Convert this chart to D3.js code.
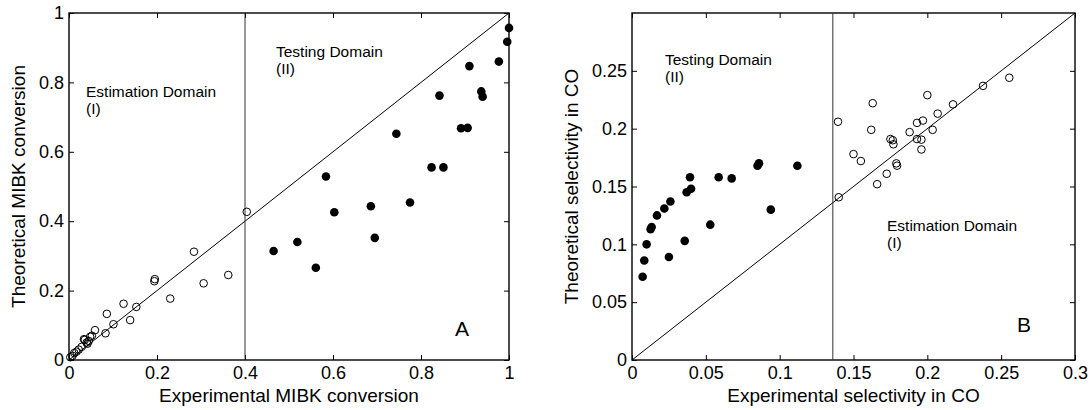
<!DOCTYPE html>
<html>
<head>
<meta charset="utf-8">
<script src="https://cdn.jsdelivr.net/npm/d3@7"></script>
<style>
  body { margin: 0; background: #fff; }
  svg text { font-family: "Liberation Sans", Arial, sans-serif; fill: #000; }
</style>
</head>
<body>
<div id="chart"></div>
<script>
// panel A: MIBK conversion, estimation domain (open) and testing domain (filled)
var mibkEstX = [0.003, 0.008, 0.012, 0.017, 0.022, 0.029, 0.034, 0.036, 0.040, 0.042, 0.045, 0.048, 0.052, 0.059, 0.083, 0.086, 0.101, 0.124, 0.139, 0.153, 0.194, 0.195, 0.230, 0.284, 0.306, 0.362, 0.404];
var mibkEstY = [0.008, 0.012, 0.020, 0.024, 0.030, 0.038, 0.060, 0.058, 0.050, 0.047, 0.055, 0.067, 0.070, 0.086, 0.077, 0.133, 0.103, 0.162, 0.115, 0.153, 0.227, 0.233, 0.177, 0.312, 0.221, 0.245, 0.427];
var mibkTestX = [0.465, 0.519, 0.561, 0.584, 0.603, 0.686, 0.695, 0.744, 0.775, 0.824, 0.842, 0.851, 0.891, 0.906, 0.910, 0.937, 0.940, 0.977, 0.996, 1.000];
var mibkTestY = [0.314, 0.340, 0.266, 0.529, 0.426, 0.443, 0.352, 0.652, 0.454, 0.555, 0.762, 0.555, 0.668, 0.669, 0.847, 0.774, 0.759, 0.860, 0.917, 0.957];

// panel B: selectivity in CO
var coTestX = [0.0072, 0.0083, 0.0099, 0.0126, 0.0133, 0.0169, 0.0219, 0.025, 0.026, 0.0357, 0.037, 0.0393, 0.040, 0.053, 0.0587, 0.0675, 0.085, 0.086, 0.094, 0.112];
var coTestY = [0.072, 0.086, 0.100, 0.113, 0.115, 0.125, 0.131, 0.089, 0.137, 0.103, 0.145, 0.158, 0.148, 0.117, 0.158, 0.157, 0.168, 0.170, 0.130, 0.168];
var coEstX = [0.1395, 0.140, 0.150, 0.155, 0.162, 0.163, 0.166, 0.1725, 0.175, 0.1766, 0.177, 0.179, 0.1795, 0.188, 0.193, 0.193, 0.196, 0.196, 0.197, 0.200, 0.2036, 0.207, 0.2174, 0.2377, 0.2555];
var coEstY = [0.206, 0.1407, 0.178, 0.172, 0.199, 0.222, 0.152, 0.161, 0.191, 0.190, 0.1865, 0.170, 0.168, 0.197, 0.205, 0.191, 0.1905, 0.182, 0.207, 0.229, 0.199, 0.213, 0.221, 0.237, 0.244];

var ticksA = [0, 0.2, 0.4, 0.6, 0.8, 1];
var ticksBx = [0, 0.05, 0.1, 0.15, 0.2, 0.25, 0.3];
var ticksBy = [0, 0.05, 0.1, 0.15, 0.2, 0.25];

var svg = d3.select("#chart").append("svg")
    .attr("width", 1091)
    .attr("height", 410);

var fmt = function(d) { return String(+d.toFixed(2)); };

function drawPanel(opt) {
  var x = d3.scaleLinear().domain(opt.domain).range([opt.left, opt.right]);
  var y = d3.scaleLinear().domain(opt.domain).range([opt.bottom, opt.top]);
  var g = svg.append("g");

  // ticks inside the box, on all sides
  g.append("g").attr("transform", "translate(0," + opt.bottom + ")")
    .call(d3.axisBottom(x).tickValues(opt.xticks).tickSize(-5).tickSizeOuter(0).tickPadding(6).tickFormat(fmt));
  g.append("g").attr("transform", "translate(" + opt.left + ",0)")
    .call(d3.axisLeft(y).tickValues(opt.yticks).tickSize(-5).tickSizeOuter(0).tickPadding(5).tickFormat(fmt));
  g.append("g").attr("transform", "translate(0," + opt.top + ")")
    .call(d3.axisTop(x).tickValues(opt.xticks).tickSize(-5).tickSizeOuter(0).tickFormat(""));
  g.append("g").attr("transform", "translate(" + opt.right + ",0)")
    .call(d3.axisRight(y).tickValues(opt.yticks).tickSize(-5).tickSizeOuter(0).tickFormat(""));
  g.selectAll(".domain").remove();
  g.selectAll(".tick line").attr("stroke", "#000");
  g.selectAll(".tick text").style("font-size", "18px");

  g.append("rect")
    .attr("x", opt.left).attr("y", opt.top)
    .attr("width", opt.right - opt.left).attr("height", opt.bottom - opt.top)
    .attr("fill", "none").attr("stroke", "#000").attr("stroke-width", 1.4);

  // parity line and domain separator
  g.append("line")
    .attr("x1", x(opt.domain[0])).attr("y1", y(opt.domain[0]))
    .attr("x2", x(opt.domain[1])).attr("y2", y(opt.domain[1]))
    .attr("stroke", "#000").attr("stroke-width", 1);
  g.append("line")
    .attr("x1", x(opt.split)).attr("x2", x(opt.split))
    .attr("y1", opt.top).attr("y2", opt.bottom)
    .attr("stroke", "#333").attr("stroke-width", 1);

  g.selectAll(".open").data(d3.zip(opt.openX, opt.openY)).enter().append("circle")
    .attr("cx", function(d) { return x(d[0]); })
    .attr("cy", function(d) { return y(d[1]); })
    .attr("r", 3.8)
    .attr("fill", "none").attr("stroke", "#000").attr("stroke-width", 1);
  g.selectAll(".filled").data(d3.zip(opt.fillX, opt.fillY)).enter().append("circle")
    .attr("cx", function(d) { return x(d[0]); })
    .attr("cy", function(d) { return y(d[1]); })
    .attr("r", 4.3)
    .attr("fill", "#000");

  g.append("text")
    .attr("x", (opt.left + opt.right) / 2).attr("y", 402)
    .attr("text-anchor", "middle").style("font-size", "19px")
    .text(opt.xlabel);
  g.append("text")
    .attr("transform", "translate(" + opt.ylabelX + "," + (opt.top + opt.bottom) / 2 + ") rotate(-90)")
    .attr("text-anchor", "middle").style("font-size", "19px")
    .text(opt.ylabel);

  opt.notes.forEach(function(n) {
    var t = g.append("text").attr("x", n[0]).attr("y", n[1]).style("font-size", "15.5px");
    t.append("tspan").attr("x", n[0]).text(n[2]);
    t.append("tspan").attr("x", n[0]).attr("dy", 17).text(n[3]);
  });
  g.append("text")
    .attr("x", opt.letter[0]).attr("y", opt.letter[1])
    .style("font-size", "21px").text(opt.letter[2]);
}

drawPanel({
  left: 69, right: 509, top: 13, bottom: 360,
  domain: [0, 1], xticks: ticksA, yticks: ticksA, split: 0.4,
  openX: mibkEstX, openY: mibkEstY, fillX: mibkTestX, fillY: mibkTestY,
  xlabel: "Experimental MIBK conversion", ylabel: "Theoretical MIBK conversion", ylabelX: 25,
  notes: [[86, 97, "Estimation Domain", "(I)"], [276, 57, "Testing Domain", "(II)"]],
  letter: [455, 336, "A"]
});

drawPanel({
  left: 632, right: 1075, top: 13, bottom: 360,
  domain: [0, 0.3], xticks: ticksBx, yticks: ticksBy, split: 0.136,
  openX: coEstX, openY: coEstY, fillX: coTestX, fillY: coTestY,
  xlabel: "Experimental selectivity in CO", ylabel: "Theoretical selectivity in CO", ylabelX: 578,
  notes: [[665, 65, "Testing Domain", "(II)"], [887, 231, "Estimation Domain", "(I)"]],
  letter: [1017, 332, "B"]
});
</script>
</body>
</html>
